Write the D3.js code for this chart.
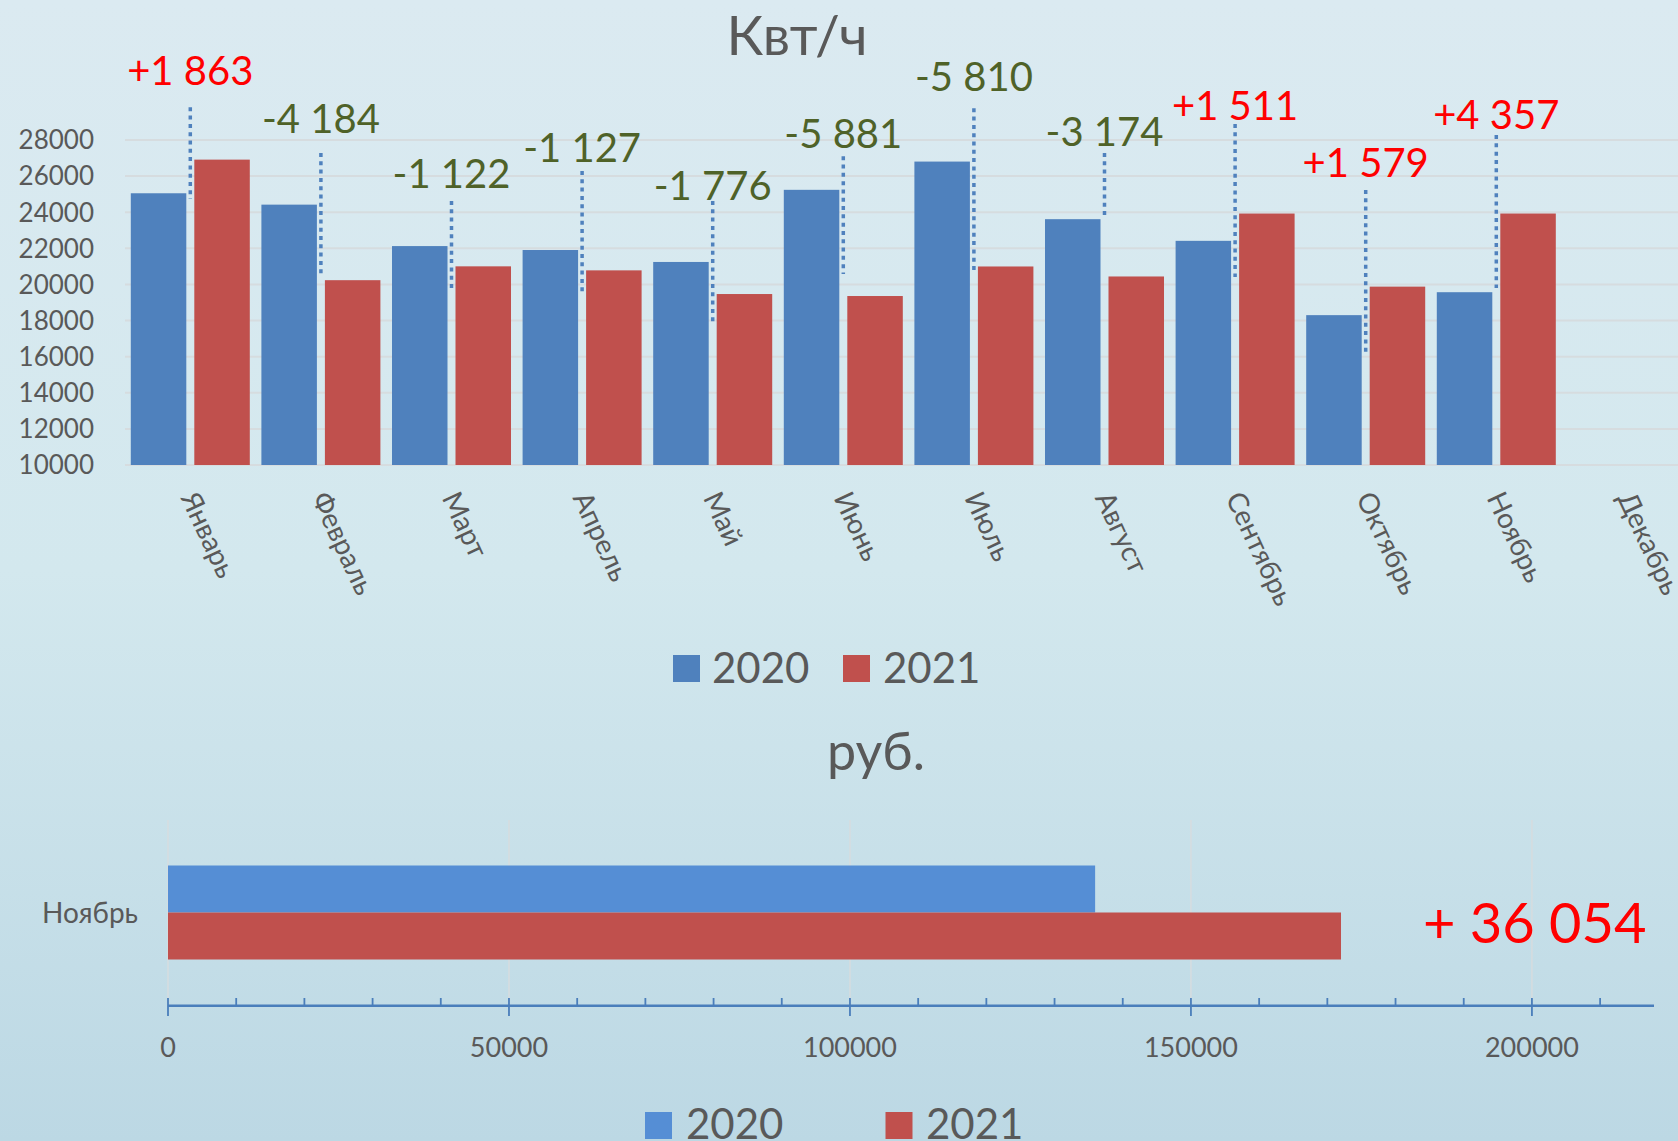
<!DOCTYPE html>
<html><head><meta charset="utf-8">
<script src="https://cdn.jsdelivr.net/npm/d3@7/dist/d3.min.js"></script>
<style>
html,body{margin:0;padding:0;background:#d6e9ef;}
svg{display:block;}
text{font-family:Lato,"Open Sans",sans-serif;}
</style></head>
<body>
<svg id="chart" width="1678" height="1141"></svg>
<script>
// ---------- DATA ----------
const months = ["Январь","Февраль","Март","Апрель","Май","Июнь","Июль","Август","Сентябрь","Октябрь","Ноябрь","Декабрь"];
const seriesNames = ["2020","2021"];
const kwh2020 = [25050, 24420, 22125, 21907, 21245, 25240, 26805, 23615, 22415, 18300, 19570];
const kwh2021 = [26913, 20236, 21003, 20780, 19469, 19359, 20995, 20441, 23926, 19879, 23927];
const diffLabels = ["+1 863","-4 184","-1 122","-1 127","-1 776","-5 881","-5 810","-3 174","+1 511","+1 579","+4 357"];
const diffLabelValue = [31046, 28371, 25358, 26798, 24676, 27573, 30730, 27684, 29107, 25934, 28609];
const diffLineTop = [29811, 27280, 24621, 26283, 24621, 27100, 29755, 27280, 28885, 25230, 28275];
const diffLineBottom = [24732, 20523, 19803, 19598, 17936, 20578, 20800, 23846, 20412, 16275, 19803];
const yTicksTop = [10000,12000,14000,16000,18000,20000,22000,24000,26000,28000];

const rubCategory = ["Ноябрь"];
const rub2020 = [135950];
const rub2021 = [172004];
const rubDiffLabel = "+ 36 054";
const xTicksBottomMajor = [0, 50000, 100000, 150000, 200000];
const xTicksBottomMinor = [10000,20000,30000,40000,60000,70000,80000,90000,110000,120000,130000,140000,160000,170000,180000,190000,210000];

// ---------- STYLE ----------
const C_BLUE = "#4f81bd", C_RED = "#c0504d", C_BLUE2 = "#558ed5";
const C_TEXT = "#595959", C_GRID = "#d6dcdf", C_GREEN = "#4f6228", C_PLUS = "#ff0000";

const svg = d3.select("#chart");
const defs = svg.append("defs");
const grad = defs.append("linearGradient").attr("id","bg").attr("x1",0).attr("y1",0).attr("x2",0).attr("y2",1);
grad.append("stop").attr("offset","0").attr("stop-color","#dbeaf1");
grad.append("stop").attr("offset","0.5").attr("stop-color","#d3e8ee");
grad.append("stop").attr("offset","1").attr("stop-color","#bcd8e4");
svg.append("rect").attr("width",1678).attr("height",1141).attr("fill","url(#bg)");

// ================= TOP CHART =================
const x0 = d3.scaleBand().domain(months).range([125, 125 + 12*130.6]).padding(0);
const x1 = d3.scaleBand().domain(seriesNames).range([0, x0.bandwidth()]).paddingInner(0.126).paddingOuter(0.0913);
const y = d3.scaleLinear().domain([10000, 28000]).range([465, 140]);

// gridlines
svg.append("g").selectAll("line").data(yTicksTop).join("line")
  .attr("x1",125).attr("x2",1678).attr("y1",d=>y(d)).attr("y2",d=>y(d))
  .attr("stroke",C_GRID).attr("stroke-width",2);

// y labels
svg.append("g").selectAll("text").data(yTicksTop).join("text")
  .attr("x",94).attr("y",d=>y(d)).attr("dy","0.36em").attr("text-anchor","end")
  .attr("font-size",26).attr("fill",C_TEXT).text(d=>d);

// bars
const topData = kwh2020.map((v,i)=>({m:months[i], vals:[{s:"2020",v:v},{s:"2021",v:kwh2021[i]}]}));
const gBars = svg.append("g");
topData.forEach(d=>{
  gBars.selectAll(null).data(d.vals).join("rect")
    .attr("x",e=>x0(d.m)+x1(e.s)).attr("width",x1.bandwidth())
    .attr("y",e=>y(e.v)).attr("height",e=>y(10000)-y(e.v))
    .attr("fill",e=>e.s==="2020"?C_BLUE:C_RED);
});

// month labels (rotated)
svg.append("g").selectAll("text").data(months).join("text")
  .attr("transform",d=>`translate(${x0(d)+x0.bandwidth()/2},493) rotate(65)`)
  .attr("dominant-baseline","central").attr("text-anchor","start")
  .attr("font-size",28).attr("fill",C_TEXT).text(d=>d);

// difference annotations
const cx = i => x0(months[i]) + x0.bandwidth()/2;
svg.append("g").selectAll("line").data(diffLabels).join("line")
  .attr("x1",(d,i)=>cx(i)).attr("x2",(d,i)=>cx(i))
  .attr("y1",(d,i)=>y(diffLineTop[i])).attr("y2",(d,i)=>y(diffLineBottom[i]))
  .attr("stroke",C_BLUE).attr("stroke-width",3.5).attr("stroke-dasharray","4,4.3");
svg.append("g").selectAll("text").data(diffLabels).join("text")
  .attr("x",(d,i)=>cx(i)).attr("y",(d,i)=>y(diffLabelValue[i]))
  .attr("text-anchor","middle").attr("font-size",40)
  .attr("fill",d=>d[0]==="+"?C_PLUS:C_GREEN).text(d=>d);

// title
svg.append("text").attr("x",797).attr("y",55).attr("text-anchor","middle")
  .attr("font-size",55).attr("fill",C_TEXT).text("Квт/ч");

// legend top
const legTop = svg.append("g");
[[673,712,C_BLUE,"2020"],[843,883,C_RED,"2021"]].forEach(([sx,tx,c,t])=>{
  legTop.append("rect").attr("x",sx).attr("y",655).attr("width",27).attr("height",27).attr("fill",c);
  legTop.append("text").attr("x",tx).attr("y",683).attr("font-size",42).attr("fill",C_TEXT).text(t);
});

// ================= BOTTOM CHART =================
const bx = d3.scaleLinear().domain([0, 217900]).range([168, 1654]);
const by0 = d3.scaleBand().domain(rubCategory).range([820, 1005]).paddingInner(0).paddingOuter(0.484);
const by1 = d3.scaleBand().domain(seriesNames).range([0, by0.bandwidth()]).padding(0);

svg.append("g").selectAll("line").data(xTicksBottomMajor).join("line")
  .attr("x1",d=>bx(d)).attr("x2",d=>bx(d)).attr("y1",820).attr("y2",1005)
  .attr("stroke",C_GRID).attr("stroke-width",1.5);

const botData = rubCategory.map((c,i)=>({c:c, vals:[{s:"2020",v:rub2020[i]},{s:"2021",v:rub2021[i]}]}));
botData.forEach(d=>{
  svg.append("g").selectAll("rect").data(d.vals).join("rect")
    .attr("x",bx(0)).attr("width",e=>bx(e.v)-bx(0))
    .attr("y",e=>by0(d.c)+by1(e.s)).attr("height",by1.bandwidth())
    .attr("fill",e=>e.s==="2020"?C_BLUE2:C_RED);
});

// axis
const axY = 1005.7;
svg.append("line").attr("x1",bx(0)).attr("x2",bx(217900)).attr("y1",axY).attr("y2",axY)
  .attr("stroke","#4a7ebb").attr("stroke-width",2.5);
svg.append("g").selectAll("line").data(xTicksBottomMinor).join("line")
  .attr("x1",d=>bx(d)).attr("x2",d=>bx(d)).attr("y1",998).attr("y2",axY)
  .attr("stroke","#4a7ebb").attr("stroke-width",1.8);
svg.append("g").selectAll("line").data(xTicksBottomMajor).join("line")
  .attr("x1",d=>bx(d)).attr("x2",d=>bx(d)).attr("y1",998).attr("y2",1016)
  .attr("stroke","#4a7ebb").attr("stroke-width",1.8);
svg.append("g").selectAll("text").data(xTicksBottomMajor).join("text")
  .attr("x",d=>bx(d)).attr("y",1057).attr("text-anchor","middle")
  .attr("font-size",27).attr("fill",C_TEXT).text(d=>d);

// category label
svg.append("text").attr("x",138).attr("y",by0(rubCategory[0])+by0.bandwidth()/2).attr("dy","0.36em")
  .attr("text-anchor","end").attr("font-size",28).attr("fill",C_TEXT).text(rubCategory[0]);

// diff label
svg.append("text").attr("x",1423).attr("y",943).attr("font-size",56).attr("fill",C_PLUS).text(rubDiffLabel);

// title
svg.append("text").attr("x",876).attr("y",770).attr("text-anchor","middle")
  .attr("font-size",52).attr("fill",C_TEXT).text("руб.");

// legend bottom
[[645,686,C_BLUE2,"2020"],[885.5,926,C_RED,"2021"]].forEach(([sx,tx,c,t])=>{
  svg.append("rect").attr("x",sx).attr("y",1112).attr("width",27).attr("height",27).attr("fill",c);
  svg.append("text").attr("x",tx).attr("y",1139).attr("font-size",42).attr("fill",C_TEXT).text(t);
});
</script>
</body></html>
